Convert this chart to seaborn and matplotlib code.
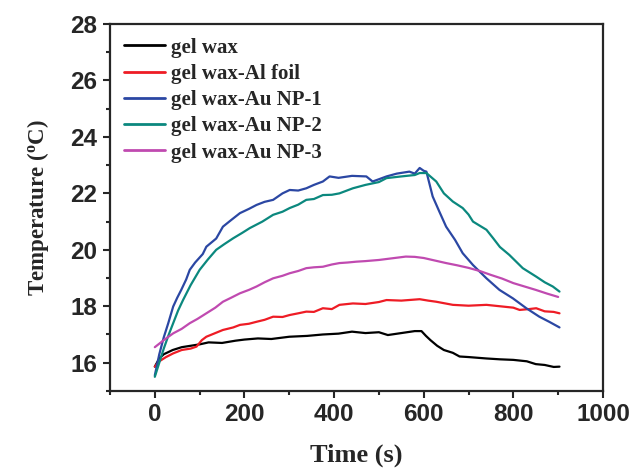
#!/usr/bin/env python3
"""Temperature vs time curves for gel wax samples."""

import matplotlib

matplotlib.use("Agg")

import matplotlib.pyplot as plt
import pandas as pd
import seaborn as sns
from matplotlib.ticker import MultipleLocator

LABELS = ["gel wax", "gel wax-Al foil", "gel wax-Au NP-1", "gel wax-Au NP-2", "gel wax-Au NP-3"]
COLORS = ["#000000", "#ee1c25", "#2b47a3", "#0b887e", "#c04ab0"]

wax_t = [0, 10, 20, 40, 60, 80, 100, 120, 150, 180, 200, 230, 260, 300, 340, 375, 410, 440, 470,
         500, 520, 550, 580, 595, 605, 615, 630, 645, 665, 680, 700, 740, 770, 800, 830, 850, 870, 890, 903]
wax_T = [15.86, 16.15, 16.3, 16.45, 16.55, 16.6, 16.65, 16.72, 16.7, 16.78, 16.82, 16.86, 16.84, 16.92,
         16.95, 17.0, 17.03, 17.1, 17.05, 17.08, 16.98, 17.05, 17.12, 17.12, 16.95, 16.8, 16.6, 16.45,
         16.35, 16.22, 16.2, 16.15, 16.12, 16.1, 16.05, 15.95, 15.92, 15.85, 15.86]

al_t = [0, 10, 25, 41, 60, 80, 93, 105, 115, 135, 152, 175, 190, 210, 227, 245, 264, 285, 301, 320,
        338, 355, 375, 395, 412, 442, 470, 500, 517, 550, 591, 610, 628, 665, 700, 740, 770, 800, 814,
        835, 851, 870, 890, 903]
al_T = [15.86, 16.05, 16.2, 16.33, 16.45, 16.5, 16.57, 16.8, 16.92, 17.05, 17.16, 17.25, 17.34, 17.38,
        17.45, 17.52, 17.63, 17.62, 17.69, 17.75, 17.81, 17.8, 17.93, 17.9, 18.05, 18.1, 18.08, 18.15,
        18.22, 18.2, 18.25, 18.2, 18.16, 18.05, 18.02, 18.05, 18.0, 17.95, 17.87, 17.9, 17.93, 17.82,
        17.8, 17.75]

np1_t = [0, 10, 20, 30, 41, 50, 59, 70, 78, 90, 107, 115, 137, 152, 170, 190, 210, 227, 245, 264, 285,
         301, 320, 338, 355, 375, 390, 410, 440, 472, 486, 500, 517, 540, 568, 580, 591, 600, 606, 620,
         635, 650, 670, 687, 710, 740, 769, 799, 829, 858, 880, 903]
np1_T = [15.55, 16.3, 16.9, 17.4, 17.99, 18.3, 18.58, 18.95, 19.29, 19.55, 19.85, 20.11, 20.4, 20.82,
         21.05, 21.3, 21.45, 21.59, 21.7, 21.77, 22.0, 22.12, 22.1, 22.18, 22.3, 22.42, 22.6, 22.55,
         22.62, 22.6, 22.42, 22.5, 22.6, 22.7, 22.77, 22.7, 22.9, 22.8, 22.77, 21.89, 21.35, 20.82,
         20.35, 19.88, 19.46, 18.99, 18.58, 18.28, 17.93, 17.63, 17.45, 17.25]

np2_t = [0, 10, 20, 30, 41, 52, 63, 80, 100, 118, 137, 155, 175, 195, 212, 240, 264, 285, 301, 320,
         338, 355, 375, 395, 412, 442, 470, 500, 517, 550, 580, 591, 606, 628, 645, 665, 687, 700, 710,
         740, 755, 770, 791, 821, 851, 870, 888, 903]
np2_T = [15.5, 16.0, 16.5, 16.95, 17.4, 17.85, 18.22, 18.75, 19.29, 19.65, 20.0, 20.2, 20.41, 20.6,
         20.77, 21.0, 21.24, 21.35, 21.48, 21.6, 21.77, 21.8, 21.94, 21.95, 22.0, 22.18, 22.3, 22.4,
         22.54, 22.6, 22.65, 22.72, 22.72, 22.42, 22.0, 21.71, 21.48, 21.25, 21.0, 20.71, 20.41, 20.1,
         19.82, 19.35, 19.05, 18.85, 18.7, 18.52]

np3_t = [0, 20, 41, 60, 78, 95, 115, 135, 152, 170, 190, 210, 227, 245, 264, 285, 301, 320, 338, 355,
         375, 395, 412, 430, 450, 470, 500, 530, 560, 580, 600, 625, 650, 675, 700, 725, 750, 775, 800,
         825, 850, 875, 900]
np3_T = [16.55, 16.8, 17.04, 17.2, 17.4, 17.55, 17.75, 17.95, 18.16, 18.3, 18.46, 18.58, 18.7, 18.85,
         18.99, 19.08, 19.17, 19.25, 19.35, 19.38, 19.4, 19.48, 19.53, 19.55, 19.58, 19.6, 19.64, 19.7,
         19.76, 19.75, 19.71, 19.62, 19.53, 19.45, 19.36, 19.25, 19.11, 18.98, 18.82, 18.7, 18.58,
         18.45, 18.33]


def build_frame() -> pd.DataFrame:
    parts = []
    series = [(wax_t, wax_T), (al_t, al_T), (np1_t, np1_T), (np2_t, np2_T), (np3_t, np3_T)]
    for label, (t, temp) in zip(LABELS, series):
        parts.append(pd.DataFrame({"time": t, "temp": temp, "sample": label}))
    return pd.concat(parts, ignore_index=True)


def main() -> None:
    sns.set_style("ticks")
    plt.rcParams["font.family"] = ["Liberation Sans", "DejaVu Sans"]

    data = build_frame()
    fig = plt.figure(figsize=(6.38, 4.71), dpi=100)
    ax = fig.add_axes([0.1724, 0.170, 0.7727, 0.779])

    sns.lineplot(
        data=data, x="time", y="temp", hue="sample", hue_order=LABELS,
        palette=COLORS, estimator=None, sort=False, linewidth=1.6, ax=ax,
    )

    ax.set_xlim(-100, 1000)
    ax.set_ylim(15, 28)
    ax.xaxis.set_major_locator(MultipleLocator(200))
    ax.xaxis.set_minor_locator(MultipleLocator(100))
    ax.yaxis.set_major_locator(MultipleLocator(2))
    ax.yaxis.set_minor_locator(MultipleLocator(1))
    ax.tick_params(which="major", direction="out", length=5, width=1.5, labelsize=17.5, pad=4)
    ax.tick_params(which="minor", direction="out", length=3, width=1.5)
    for lab in ax.get_xticklabels() + ax.get_yticklabels():
        lab.set_fontweight("bold")
    for spine in ax.spines.values():
        spine.set_linewidth(1.6)
        spine.set_visible(True)

    serif = {"family": ["Liberation Serif", "DejaVu Serif"], "weight": "bold"}
    ax.set_xlabel("Time (s)", fontdict=serif, fontsize=19, labelpad=12)
    ax.set_ylabel(r"Temperature ($\mathregular{^o}$C)", fontdict=serif, fontsize=16.5, labelpad=14)

    leg = ax.legend(
        loc="upper left", frameon=False, handlelength=2.0, handletextpad=0.3,
        labelspacing=0.3, borderaxespad=0.25, bbox_to_anchor=(0.0, 1.0),
        prop={"family": ["Liberation Serif", "DejaVu Serif"], "weight": "bold", "size": 15},
    )
    for line in leg.get_lines():
        line.set_linewidth(2.0)

    fig.savefig("out.png", dpi=100)
    plt.close(fig)


if __name__ == "__main__":
    main()
